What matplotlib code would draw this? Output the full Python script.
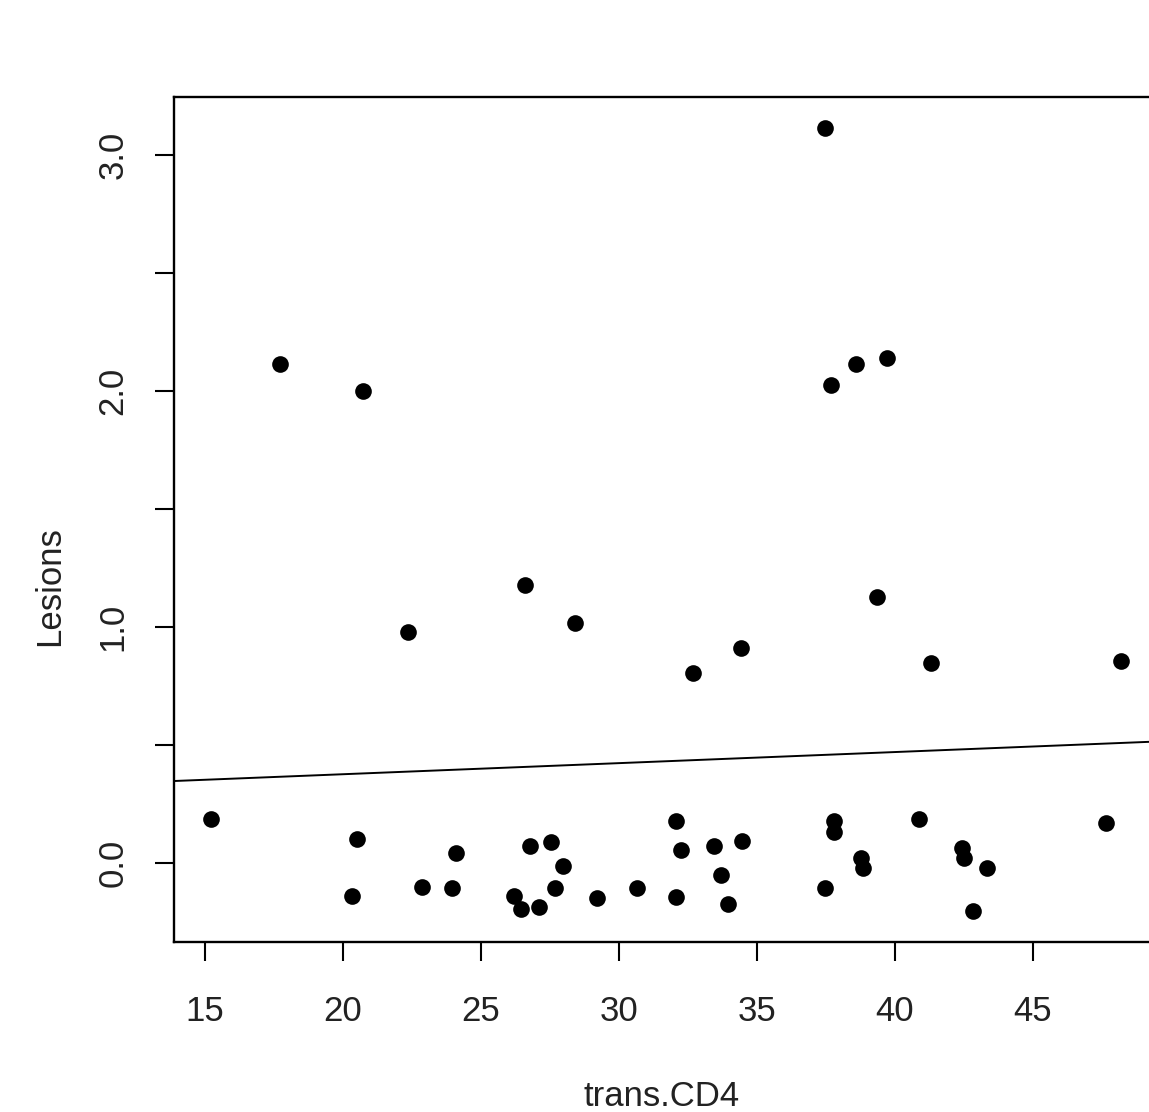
import matplotlib
matplotlib.use("Agg")
import matplotlib.pyplot as plt
import numpy as np

plt.rcParams['font.family'] = ['Liberation Sans', 'DejaVu Sans']

# trans.CD4 vs Lesions
trans_cd4 = [15.22, 17.72, 20.72, 22.36, 26.59, 28.41, 32.68, 34.42, 37.46, 37.68,
             38.59, 39.71, 39.35, 41.30, 48.19, 47.64,
             20.50, 20.31, 22.87, 23.94, 24.08, 26.21, 26.45, 26.78, 27.10, 27.54,
             27.96, 27.68, 29.19, 30.64,
             32.07, 32.24, 32.07, 33.45, 34.44, 33.70, 33.94, 37.46, 37.78, 37.78,
             38.76, 38.85, 40.88, 42.42, 42.51, 43.34, 42.84]
lesions = [0.186, 2.114, 2.000, 0.979, 1.178, 1.017, 0.805, 0.911, 3.114, 2.025,
           2.114, 2.140, 1.127, 0.847, 0.856, 0.168,
           0.100, -0.138, -0.100, -0.107, 0.044, -0.138, -0.195, 0.072, -0.185, 0.090,
           -0.013, -0.107, -0.147, -0.107,
           0.178, 0.055, -0.145, 0.073, 0.093, -0.051, -0.175, -0.107, 0.178, 0.130,
           0.020, -0.023, 0.186, 0.065, 0.020, -0.023, -0.203]

# abline coefficients (intercept, slope)
fit_intercept = 0.282
fit_slope = 0.0047

x_ticks = [15, 20, 25, 30, 35, 40, 45]
y_ticks = [0.0, 0.5, 1.0, 1.5, 2.0, 2.5, 3.0]
y_labels = ['0.0', '', '1.0', '', '2.0', '', '3.0']

W, H = 1149, 1112
fig = plt.figure(figsize=(W / 100, H / 100), dpi=100)
left, right, top, bottom = 174, 1152, 97, 942
ax = fig.add_axes([left / W, 1 - bottom / H, (right - left) / W, (bottom - top) / H])

ax.plot(trans_cd4, lesions, 'o', color='black', markersize=12, markeredgewidth=0)
ax.axline((0, fit_intercept), slope=fit_slope, color='black', linewidth=1.4)

ax.set_xlim(13.877, 49.31)
ax.set_ylim(-0.335, 3.246)

ax.set_xticks(x_ticks)
ax.set_yticks(y_ticks)
ax.set_yticklabels(y_labels, rotation=90, va='center')

for s in ax.spines.values():
    s.set_linewidth(1.7)
ax.tick_params(axis='both', length=14, width=1.5, labelsize=25, colors='black',
               labelcolor='#222222')
ax.tick_params(axis='x', pad=24)
ax.tick_params(axis='y', pad=18)

ax.set_xlabel('trans.CD4', fontsize=25, color='#222222')
ax.set_ylabel('Lesions', fontsize=25, color='#222222')
ax.xaxis.set_label_coords((662 - left) / (right - left), -(1096 - bottom) / (bottom - top))
ax.yaxis.set_label_coords(-(left - 50) / (right - left), (bottom - 586) / (bottom - top))
ax.xaxis.label.set_va('center')
ax.yaxis.label.set_va('center')

fig.savefig('out.png', dpi=100)
